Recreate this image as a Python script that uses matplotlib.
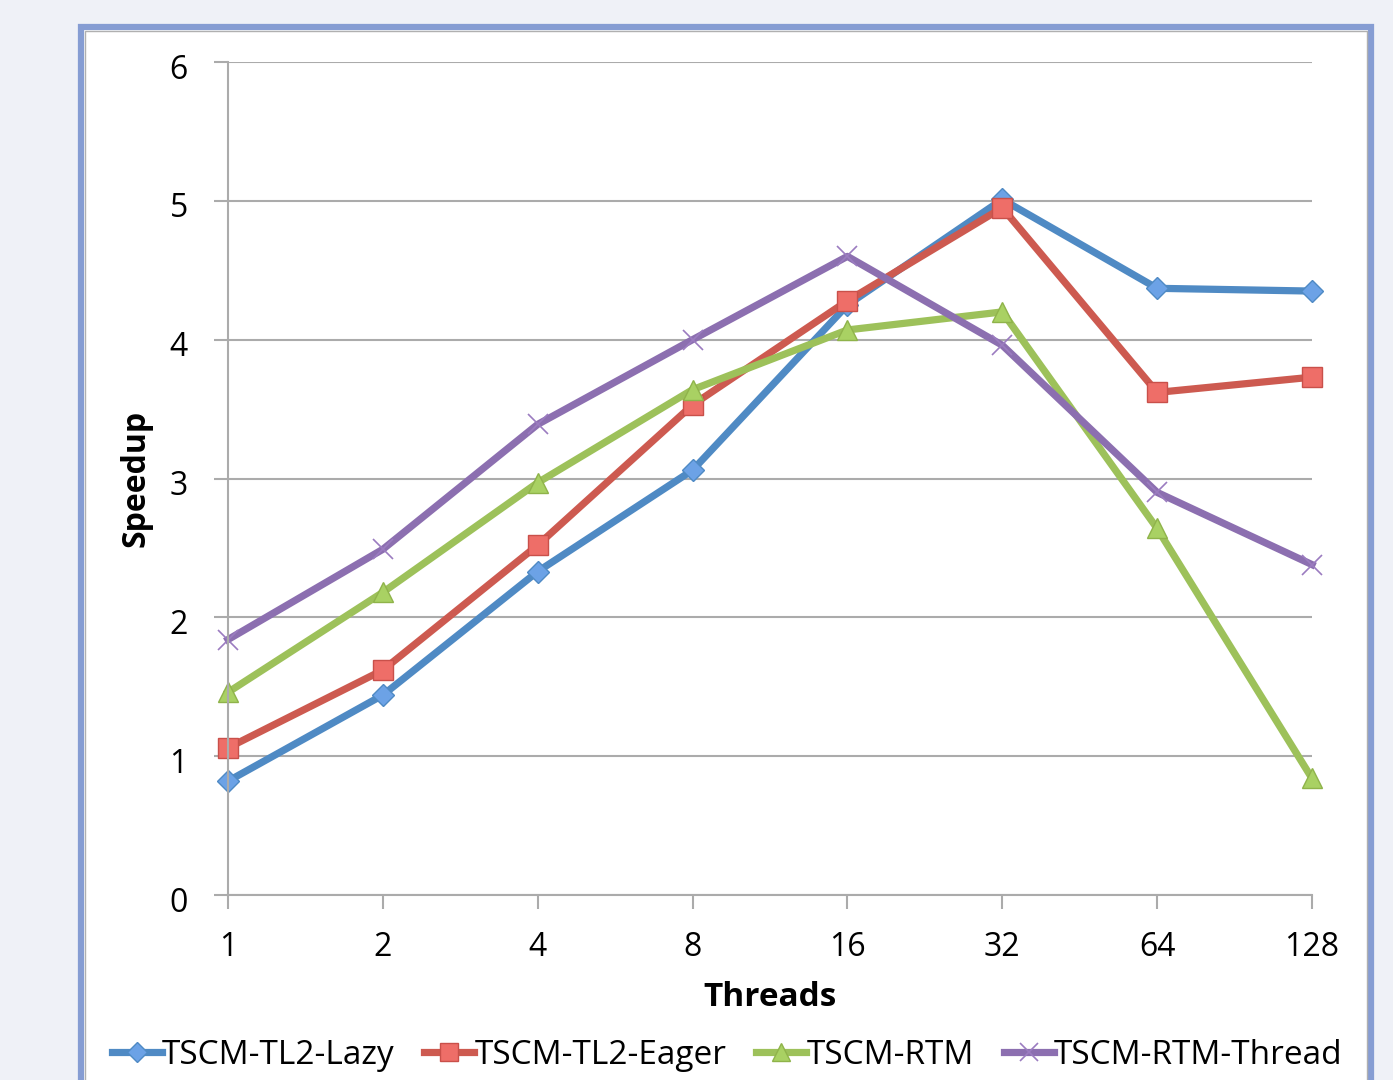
import matplotlib
matplotlib.use("Agg")
import matplotlib.pyplot as plt
import matplotlib.transforms as mtransforms
from matplotlib.patches import Rectangle

threads = [1, 2, 4, 8, 16, 32, 64, 128]
tick_labels = ["1", "2", "4", "8", "16", "32", "64", "128"]
lazy = [0.82, 1.44, 2.33, 3.06, 4.25, 5.01, 4.37, 4.35]
eager = [1.06, 1.62, 2.52, 3.53, 4.28, 4.95, 3.62, 3.73]
rtm = [1.46, 2.18, 2.97, 3.64, 4.07, 4.20, 2.64, 0.84]
rtm_thread = [1.84, 2.49, 3.39, 4.00, 4.60, 3.96, 2.90, 2.38]
series_names = ["TSCM-TL2-Lazy", "TSCM-TL2-Eager", "TSCM-RTM", "TSCM-RTM-Thread"]

plt.rcParams['font.family'] = ['Open Sans', 'DejaVu Sans']

W, H = 1393, 1080
fig = plt.figure(figsize=(W / 100, H / 100), dpi=100)
fig.patch.set_facecolor('#eff1f7')

# frame
fig.patches.append(Rectangle((81 / W, -0.05), (1371 - 81) / W, (1080 - 27) / H + 0.05,
                             transform=fig.transFigure, facecolor='white',
                             edgecolor='#869dd3', linewidth=4.5, zorder=-2))
fig.patches.append(Rectangle((85 / W, -0.05), (1367 - 85) / W, (1080 - 31) / H + 0.05,
                             transform=fig.transFigure, facecolor='none',
                             edgecolor='#b0b0b0', linewidth=1.0, zorder=-1))

ax = fig.add_axes([228 / W, 1 - 895 / H, (1312 - 228) / W, (895 - 62) / H])
ax.set_facecolor('none')

styles = [
    dict(color='#4f8ac4', marker='D', markersize=11, markerfacecolor='#6ca2e6', markeredgecolor='#4f8ac4'),
    dict(color='#cd5a50', marker='s', markersize=14, markerfacecolor='#ee6e68', markeredgecolor='#c9504a'),
    dict(color='#9dc15a', marker='^', markersize=15, markerfacecolor='#a9d163', markeredgecolor='#8fb34a'),
    dict(color='#8c6fb0', marker='x', markersize=14, markeredgewidth=1.2, markeredgecolor='#9b7cc0'),
]
for ys, name, st in zip([lazy, eager, rtm, rtm_thread], series_names, styles):
    ax.plot(threads, ys, linewidth=5.2, label=name, clip_on=False, **st)

ax.set_xscale('log', base=2)
ax.set_xlim(1, 128)
ax.set_ylim(0, 6)
ax.set_xticks(threads)
ax.set_xticklabels(tick_labels)
ax.minorticks_off()
ax.set_yticks(range(0, 7))
ax.yaxis.grid(True, color='#ababab', linewidth=1.5)
ax.set_axisbelow(True)
for s in ['top', 'right']:
    ax.spines[s].set_visible(False)
ax.spines['bottom'].set_color('#ababab')
ax.spines['left'].set_color('#ababab')
ax.spines['bottom'].set_linewidth(1.5)
ax.spines['left'].set_linewidth(1.5)
ax.tick_params(axis='both', colors='#ababab', width=1.5, length=10, labelcolor='black', labelsize=23)
ax.tick_params(axis='y', pad=19)
ax.tick_params(axis='x', pad=16)

offset = mtransforms.ScaledTranslation(0, -4 / 100, fig.dpi_scale_trans)
for lbl in ax.get_yticklabels():
    lbl.set_transform(lbl.get_transform() + offset)

ax.set_ylabel('Speedup', fontsize=23, fontweight='bold', labelpad=12)
ax.set_xlabel('Threads', fontsize=24, fontweight='bold', labelpad=12)

handles, labels = ax.get_legend_handles_labels()
fig.legend(handles, labels, loc='center', bbox_to_anchor=(727 / W, 1 - 1055 / H), ncol=4,
           frameon=False, fontsize=24, handlelength=1.5, handletextpad=0.0, columnspacing=0.9,
           markerscale=0.9)

fig.savefig('out.png', dpi=100, facecolor=fig.get_facecolor())
